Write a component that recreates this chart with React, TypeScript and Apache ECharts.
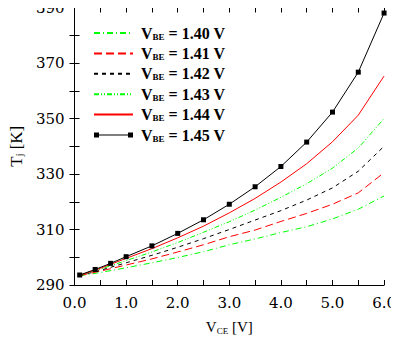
import React, { useEffect, useRef } from "react";
import * as echarts from "echarts";

// Collector-emitter voltage grid [V]
const vce = [0.1, 0.5, 1.0, 1.5, 2.0, 2.5, 3.0, 3.5, 4.0, 4.5, 5.0, 5.5, 6.0];
const vceMarked = [0.1, 0.4, 0.7, 1.0, 1.5, 2.0, 2.5, 3.0, 3.5, 4.0, 4.5, 5.0, 5.5, 6.0];

// Junction temperature [K] per base-emitter voltage
const tj140 = [293.3, 294.5, 296.2, 298.0, 299.9, 302.0, 304.5, 306.6, 308.9, 311.0, 313.8, 317.3, 322.1];
const tj141 = [293.4, 295.0, 297.2, 299.4, 301.9, 304.5, 307.4, 309.8, 312.9, 315.8, 319.1, 323.2, 330.5];
const tj142 = [293.4, 295.3, 298.0, 300.7, 303.6, 306.7, 310.0, 313.4, 316.8, 320.6, 325.0, 331.0, 340.0];
const tj143 = [293.5, 295.7, 298.8, 301.9, 305.3, 309.0, 312.8, 317.0, 321.6, 326.5, 332.1, 339.4, 350.0];
const tj144 = [293.5, 296.0, 299.6, 303.1, 307.0, 311.2, 316.0, 321.2, 327.1, 333.7, 341.6, 351.2, 365.3];
const tj145 = [293.6, 295.6, 297.8, 300.2, 304.1, 308.6, 313.5, 319.1, 325.4, 332.7, 341.5, 352.3, 366.7, 388.0];

const seriesNames = [
  "VBE = 1.40 V",
  "VBE = 1.41 V",
  "VBE = 1.42 V",
  "VBE = 1.43 V",
  "VBE = 1.44 V",
  "VBE = 1.45 V",
];

const xTicks = { min: 0, max: 6, interval: 1 };
const yTicks = { min: 290, max: 390, interval: 20 };

const pair = (xs: number[], ys: number[]) => xs.map((x, i) => [x, ys[i]]);

export default function App() {
  const ref = useRef<HTMLDivElement>(null);
  useEffect(() => {
    if (!ref.current) return;
    const chart = echarts.init(ref.current, null, { renderer: "svg" });
    const tickFont = "DejaVu Serif";
    const axisCommon = (show: boolean, margin = 10) => ({
      axisLine: { show: true, lineStyle: { color: "#000", width: 1 } },
      axisTick: { show: true, inside: true, length: 5, lineStyle: { color: "#000" } },
      minorTick: { show: true, splitNumber: 2, length: 5, lineStyle: { color: "#000" } },
      splitLine: { show: false },
      axisLabel: {
        show,
        color: "#000",
        fontFamily: tickFont,
        fontSize: 15,
        margin,
      },
    });
    const lineSeries = (name: string, data: number[][], color: string, type: any) => ({
      name,
      type: "line",
      data,
      showSymbol: false,
      symbol: "none",
      lineStyle: { color, width: 1, type },
      itemStyle: { color },
    });
    const legendRich = {
      v: { fontFamily: "Liberation Serif", fontWeight: "bold", fontSize: 16, lineHeight: 16, verticalAlign: "middle", color: "#000", padding: [0, 0, 0, 3] },
      s: { fontFamily: "Liberation Serif", fontWeight: "bold", fontSize: 9, lineHeight: 9.4, verticalAlign: "bottom", color: "#000" },
      t: { fontFamily: "Liberation Serif", fontWeight: "bold", fontSize: 16, lineHeight: 16, verticalAlign: "middle", color: "#000" },
    };
    const nameRich = (size: number, sub: number) => ({
      v: { fontFamily: "Liberation Serif", fontSize: size, lineHeight: 16, verticalAlign: "middle", color: "#000" },
      s: { fontFamily: "Liberation Serif", fontSize: sub, lineHeight: 9.4, verticalAlign: "bottom", color: "#000" },
      t: { fontFamily: "Liberation Serif", fontSize: size, lineHeight: 16, verticalAlign: "middle", color: "#000" },
    });
    const option: any = {
      animation: false,
      backgroundColor: "#fff",
      grid: { left: 62, right: 12, top: 5, bottom: 49 },
      legend: {
        orient: "vertical",
        left: 93,
        top: 25,
        padding: 0,
        itemWidth: 39,
        itemHeight: 14,
        itemGap: 4.4,
        data: seriesNames.map((n, i) =>
          i === 5
            ? { name: n, icon: "path://M0,0h5v5h-5zM34,0h5v5h-5zM5,2h29v1h-29z" }
            : { name: n, itemStyle: { opacity: 0 } }
        ),
        formatter: (name: string) => `{v|V}{s|BE}{t| = ${name.split("= ")[1]}}`,
        textStyle: { rich: legendRich },
      },
      xAxis: [
        {
          type: "value",
          ...xTicks,
          position: "bottom",
          ...axisCommon(true, 10),
          axisLabel: { ...axisCommon(true, 10).axisLabel, formatter: (v: number) => v.toFixed(1) },
          name: "{v|V}{s|CE}{t| [V]}",
          nameLocation: "middle",
          nameGap: 34,
          nameTextStyle: { rich: nameRich(15, 9) },
        },
        {
          type: "value",
          ...xTicks,
          position: "top",
          ...axisCommon(false),
        },
      ],
      yAxis: [
        {
          type: "value",
          ...yTicks,
          position: "left",
          ...axisCommon(true),
          name: "{v|T}{s|j}{t| [K]}",
          nameLocation: "middle",
          nameGap: 45,
          nameRotate: 90,
          nameTextStyle: { rich: nameRich(17, 10) },
        },
        {
          type: "value",
          ...yTicks,
          position: "right",
          ...axisCommon(false),
        },
      ],
      series: [
        lineSeries(seriesNames[0], pair(vce, tj140), "#00ff00", [6, 3, 1, 3]),
        lineSeries(seriesNames[1], pair(vce, tj141), "#ff0000", [8, 4]),
        lineSeries(seriesNames[2], pair(vce, tj142), "#000000", [4, 4]),
        lineSeries(seriesNames[3], pair(vce, tj143), "#00ff00", [5, 2, 1, 2, 1, 2]),
        lineSeries(seriesNames[4], pair(vce, tj144), "#ff0000", "solid"),
        {
          name: seriesNames[5],
          type: "line",
          data: pair(vceMarked, tj145),
          symbol: "rect",
          symbolSize: 5,
          showSymbol: true,
          lineStyle: { color: "#000", width: 1 },
          itemStyle: { color: "#000" },
        },
      ],
    };
    chart.setOption(option);
    return () => chart.dispose();
  }, []);
  return <div ref={ref} style={{ width: 399, height: 340, marginLeft: -8, marginTop: -8 }} />;
}
